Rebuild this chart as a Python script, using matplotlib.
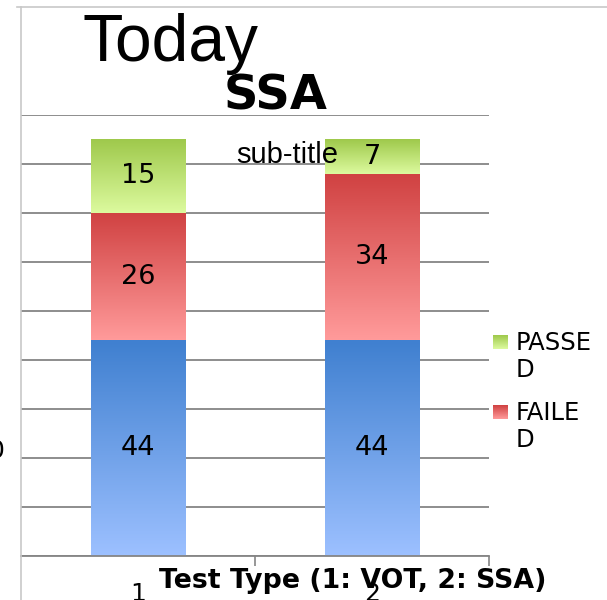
import numpy as np
import matplotlib
matplotlib.use("Agg")
import matplotlib.pyplot as plt
from matplotlib.colors import LinearSegmentedColormap
from matplotlib.lines import Line2D

plt.rcParams['font.family'] = 'DejaVu Sans'

# =========================================================
# data
# =========================================================
categories = [1, 2]
base_vals = [44, 44]      # blue, not in legend
failed_vals = [26, 34]
passed_vals = [15, 7]
legend_names = ["PASSED", "FAILED"]
y_ticks = [0, 10, 20, 30, 40, 50, 60, 70, 80, 90]

# gradient (top, bottom) per series
blue_grad = ("#4080d0", "#9cc0ff")
red_grad = ("#d04242", "#ff9a9a")
green_grad = ("#9fc94c", "#dcfa9e")

W, H = 607, 600
fig = plt.figure(figsize=(W / 100, H / 100), dpi=100)
ax = fig.add_axes([21 / W, 1 - 556 / H, (489 - 21) / W, (556 - 115) / H])

bar_w = 0.405


def grad_cmap(colors):
    return LinearSegmentedColormap.from_list("g", [colors[1], colors[0]])


def grad_bar(ax, x, bottom, height, colors):
    img = np.linspace(0, 1, 64).reshape(-1, 1)
    ax.imshow(img, cmap=grad_cmap(colors), origin="lower", aspect="auto",
              extent=[x - bar_w / 2, x + bar_w / 2, bottom, bottom + height],
              zorder=2, interpolation="bilinear")


for i, x in enumerate(categories):
    b = 0
    for vals, colors in [(base_vals, blue_grad), (failed_vals, red_grad),
                         (passed_vals, green_grad)]:
        v = vals[i]
        grad_bar(ax, x, b, v, colors)
        ax.text(x, b + v / 2, str(v), ha="center", va="center",
                fontsize=19.5, color="black", zorder=3)
        b += v

ax.set_xlim(0.5, 2.5)
ax.set_ylim(0, 90)
ax.set_yticks(y_ticks)
ax.yaxis.grid(True, color="#858585", linewidth=1.3)
ax.set_axisbelow(True)
ax.tick_params(axis="y", length=0, labelleft=False)

ax.set_xticks(categories)
ax.set_xticklabels([str(c) for c in categories], fontsize=18)
ax.set_xticks([1.5, 2.5], minor=True)
ax.tick_params(axis="x", which="major", length=0, pad=19)
ax.tick_params(axis="x", which="minor", length=7, width=1.2, color="#858585")

for s in ["top", "right", "left"]:
    ax.spines[s].set_visible(False)
ax.spines["bottom"].set_color("#858585")
ax.spines["bottom"].set_linewidth(1.3)

# frame lines of the chart area
fig.add_artist(Line2D([20.5 / W, 20.5 / W], [1 - 7 / H, 0], color="#c8c8c8",
                      linewidth=1.2, transform=fig.transFigure))
fig.add_artist(Line2D([17 / W, 1], [1 - 7 / H, 1 - 7 / H], color="#c8c8c8",
                      linewidth=1.2, transform=fig.transFigure))

# titles
fig.text(83 / W, 1 - 61 / H, "Today", fontsize=47.5, family="Liberation Sans",
         ha="left", va="baseline")
fig.text(276 / W, 1 - 109 / H, "SSA", fontsize=34.5, fontweight="bold",
         ha="center", va="baseline")
fig.text(236 / W, 1 - 163 / H, "sub-title", fontsize=21,
         family="Liberation Sans", ha="left", va="baseline", zorder=5)
fig.text(353 / W, 1 - 588 / H, "Test Type (1: VOT, 2: SSA)", fontsize=19.3,
         fontweight="bold", ha="center", va="baseline")
# clipped y label remnant at left edge
fig.text(4 / W, 1 - 451 / H, "0", fontsize=18, ha="right", va="center")

# legend
leg_rows = [(legend_names[0], green_grad, 335), (legend_names[1], red_grad, 405)]
for name, colors, ytop in leg_rows:
    lax = fig.add_axes([493 / W, 1 - (ytop + 14) / H, 15 / W, 14 / H])
    lax.imshow(np.linspace(0, 1, 32).reshape(-1, 1), cmap=grad_cmap(colors),
               origin="lower", aspect="auto")
    lax.axis("off")
    fig.text(516 / W, 1 - (ytop - 4) / H, name[:5] + "\n" + name[5:],
             fontsize=17.5, ha="left", va="top", linespacing=1.15)

fig.savefig("out.png", dpi=100)
